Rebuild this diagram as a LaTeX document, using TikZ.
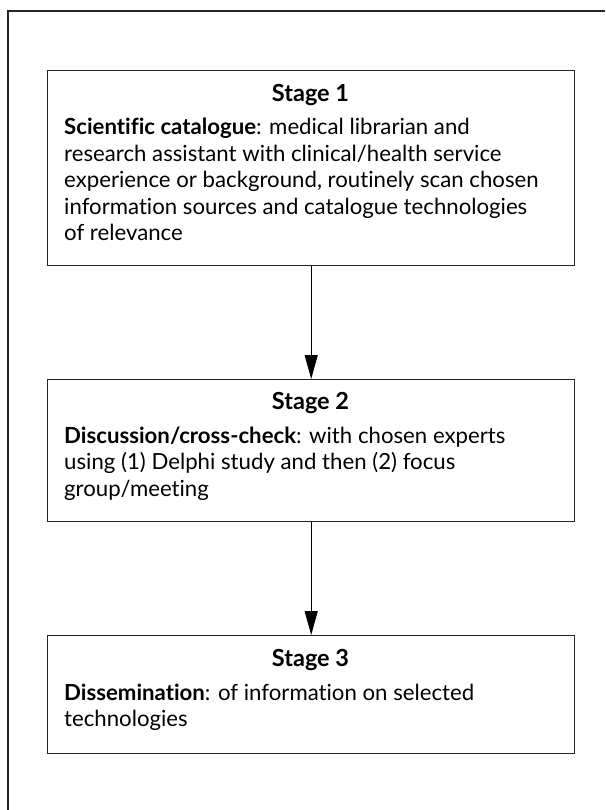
\documentclass[tikz,border=0pt]{standalone}
\usepackage{fontspec}
\setmainfont{Lato}[Ligatures=NoCommon]
\usetikzlibrary{arrows.meta}
\tikzset{
  stagebox/.style={draw=black!85, line width=1.4pt, anchor=north west, minimum width=527pt, inner sep=0pt},
  stagetitle/.style={anchor=base, inner sep=0pt, font=\fontsize{23.5pt}{26.5pt}\selectfont\bfseries},
  stagebody/.style={anchor=base west, inner sep=0pt, font=\fontsize{22.2pt}{26.5pt}\selectfont},
  flowarrow/.style={line width=1.3pt, -{Triangle[length=24pt,width=13pt]}},
  frameline/.style={line width=1.3pt, black!85}
}
\newcommand{\bodytext}[1]{\parbox[t]{505pt}{\raggedright\fontsize{22.2pt}{26.5pt}\selectfont #1}}
\begin{document}
\begin{tikzpicture}[x=1pt,y=1pt]
\useasboundingbox (0,0) rectangle (605,-810);
% outer frame (top and left edges only)
\draw[frameline] (8,-810) -- (8,-11) -- (605,-11);
% boxes
\node[stagebox, minimum height=195pt] (b1) at (47,-70) {};
\node[stagebox, minimum height=142pt] (b2) at (47,-379) {};
\node[stagebox, minimum height=118pt] (b3) at (47,-635) {};
% titles
\node[stagetitle] (s1) at (310.5,-102) {Stage 1};
\node[stagetitle] (s2) at (310.5,-409) {Stage 2};
\node[stagetitle] (s3) at (310.5,-666) {Stage 3};
% bodies
\node[stagebody] (t1) at (64,-135) {\bodytext{\textbf{Scientific catalogue}: medical librarian and\\
research assistant with clinical/health service\\
experience or background, routinely scan chosen\\
information sources and catalogue technologies\\
of relevance}};
\node[stagebody] (t2) at (64,-443) {\bodytext{\textbf{Discussion/cross-check}: with chosen experts\\
using (1) Delphi study and then (2) focus\\
group/meeting}};
\node[stagebody] (t3) at (64,-700) {\bodytext{\textbf{Dissemination}: of information on selected\\
technologies}};
% arrows
\draw[flowarrow] (b1.south) -- (b2.north);
\draw[flowarrow] (b2.south) -- (b3.north);
\end{tikzpicture}
\end{document}
